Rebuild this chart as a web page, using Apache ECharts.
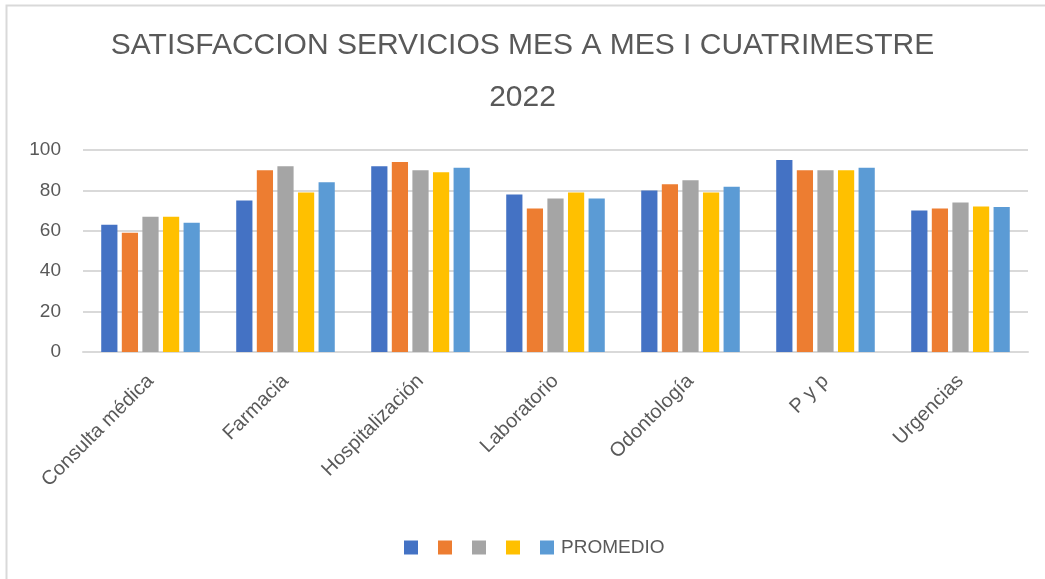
<!DOCTYPE html>
<html>
<head>
<meta charset="utf-8">
<script src="https://cdn.jsdelivr.net/npm/echarts@6/dist/echarts.min.js"></script>
<style>
  html, body { margin: 0; padding: 0; background: #fff; }
  #chart { width: 1045px; height: 579px; }
</style>
</head>
<body>
<div id="chart"></div>
<script>
// categorias y valores
var categories = ['Consulta médica', 'Farmacia', 'Hospitalización', 'Laboratorio', 'Odontología', 'P y p', 'Urgencias'];
var mes1 = [63, 75, 92, 78, 80, 95, 70];
var mes2 = [59, 90, 94, 71, 83, 90, 71];
var mes3 = [67, 92, 90, 76, 85, 90, 74];
var mes4 = [67, 79, 89, 79, 79, 90, 72];
var promedio = [64, 84, 91.25, 76, 81.75, 91.25, 71.75];
// los cuatro meses no tienen nombre en la leyenda
var seriesNames = ['m1', 'm2', 'm3', 'm4', 'PROMEDIO'];
var yTicks = [0, 20, 40, 60, 80, 100];

var colors = ['#4472C4', '#ED7D31', '#A5A5A5', '#FFC000', '#5B9BD5'];
var font = '"Liberation Sans", Arial, sans-serif';

var chart = echarts.init(document.getElementById('chart'));
var allData = [mes1, mes2, mes3, mes4, promedio];

chart.setOption({
  color: colors,
  animation: false,
  graphic: [{
    type: 'rect',
    shape: { x: 6.5, y: 5.5, width: 1060, height: 600 },
    style: { fill: 'none', stroke: '#D9D9D9', lineWidth: 2 }
  }],
  title: {
    text: 'SATISFACCION SERVICIOS MES A MES I CUATRIMESTRE\n2022',
    left: 'center',
    top: 15,
    textStyle: { fontFamily: font, fontSize: 30, fontWeight: 'normal', color: '#595959', lineHeight: 52 }
  },
  legend: {
    top: 533,
    left: 399,
    itemWidth: 14,
    itemHeight: 14,
    itemGap: 20,
    icon: 'rect',
    data: seriesNames,
    formatter: function (name) { return name === 'PROMEDIO' ? name : ''; },
    textStyle: { fontFamily: font, fontSize: 19, color: '#595959', padding: [0, 0, 0, 2] }
  },
  grid: { left: 83, right: 17, top: 150, bottom: 227, containLabel: false },
  xAxis: {
    type: 'category',
    data: categories,
    axisTick: { show: false },
    axisLine: { lineStyle: { color: '#D9D9D9', width: 2 } },
    axisLabel: { rotate: 45, fontFamily: font, fontSize: 20, color: '#595959', margin: 26, interval: 0 }
  },
  yAxis: {
    type: 'value',
    min: yTicks[0],
    max: yTicks[yTicks.length - 1],
    interval: 20,
    axisLine: { show: false },
    axisTick: { show: false },
    splitLine: { lineStyle: { color: '#D9D9D9', width: 2 } },
    axisLabel: { fontFamily: font, fontSize: 19, color: '#595959', margin: 22 }
  },
  series: seriesNames.map(function (n, i) {
    return {
      name: n,
      type: 'bar',
      data: allData[i],
      barGap: '27%',
      barCategoryGap: '27%'
    };
  })
});
</script>
</body>
</html>
